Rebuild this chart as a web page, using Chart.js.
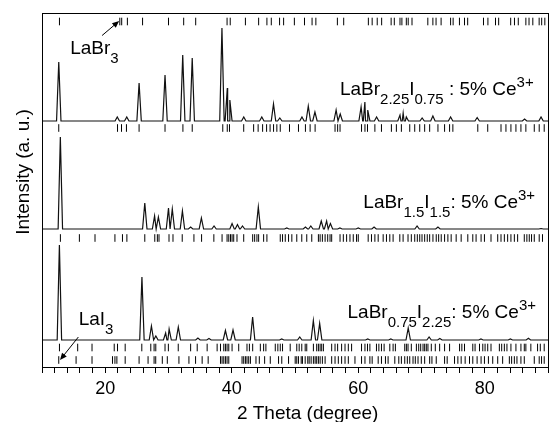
<!DOCTYPE html>
<html>
<head>
<meta charset="utf-8">
<script src="https://cdn.jsdelivr.net/npm/chart.js@4.4.1/dist/chart.umd.min.js"></script>
<style>
  body { margin: 0; background: #fff; }
</style>
</head>
<body>
<canvas id="xrd" width="553" height="422"></canvas>
<script>
// peak lists: [2theta, top of peak]  (y in plot units, 0 = bottom)
var baseTop = 246;
var peaksTop = [[12.65,305],[21.9,250],[23.4,250],[25.35,284],[29.45,292],[32.25,312],[33.75,309],
  [38.45,339],[39.3,279],[39.7,267],[41.9,250],[44.75,250],[46.6,263],[47.6,249],[51.1,250],
  [52.1,261],[53.15,255],[56.5,257],[57.15,253],[60.45,260],[61.05,265],[61.5,257],[62.9,250],
  [66.6,252],[67.1,254],[67.6,250],[70.1,249],[71.8,251],[74.6,250],[78.8,249.5],[86.3,248],[88.9,250]];

var baseMid = 138;
var peaksMid = [[12.9,230],[26.25,164],[27.8,151],[28.4,150],[30.0,159],[30.6,158],[32.2,156],
  [33.5,140],[35.2,149],[37.2,141],[40.05,143.5],[40.9,142.5],[41.7,141],[44.2,160],[48.7,139],
  [51.65,140],[52.5,141],[54.15,146],[55.0,146],[55.6,143.5],[57.1,139],[60.0,139],[62.5,140],
  [69.3,141],[72.6,140],[88.9,138.5]];

var baseBot = 27;
var peaksBot = [[12.75,122],[25.8,90],[27.3,41],[28.0,31],[29.55,34],[30.1,38],[31.55,40],
  [34.65,29],[36.4,28.5],[39.0,36.5],[40.2,37],[43.3,50],[47.9,28],[50.75,30],[52.9,46.5],
  [53.9,43.7],[61.5,28],[65.15,28],[67.9,39],[71.2,30],[72.9,28.5],[79.4,28],[84.05,28],[86.9,28.7]];

// reference reflection positions (2theta)
var ticksLaBr3 = [12.76,22.3,22.6,23.5,25.9,30.0,32.4,34.3,39.26,39.76,42.16,44.25,45.56,46.25,
  47.56,48.2,49.9,51.5,52.7,53.3,56.7,57.7,61.6,62.2,63.0,63.7,65.2,65.7,66.6,66.9,67.6,67.9,
  68.5,71.0,71.8,72.3,73.1,74.6,75.0,76.0,76.8,77.3,79.8,80.5,81.7,82.2,84.1,84.7,85.3,86.5,
  87.0,87.6,88.6,89.0,89.5];
var ticksTop = [12.65,21.94,22.57,23.35,25.35,29.45,32.28,33.75,38.58,39.29,39.64,41.89,43.46,
  44.17,44.88,45.51,46.06,46.61,47.13,47.67,49.13,50.55,51.65,52.39,53.18,56.33,56.74,57.12,
  60.52,61.06,61.46,62.63,63.67,65.24,66.03,66.82,68.14,68.93,69.72,70.5,71.29,72.6,73.65,
  74.44,74.96,78.9,80.47,82.57,83.35,84.14,84.93,85.72,86.5,87.83,88.61,89.4];
var ticksMid = [12.91,15.91,18.38,21.53,22.72,23.42,26.25,27.83,28.24,28.5,30.08,30.71,32.17,
  34.02,35.23,37.17,38.47,39.26,39.53,39.8,40.05,40.31,40.83,41.89,43.31,43.62,43.98,44.25,
  45.04,45.56,47.67,48.03,48.46,48.98,49.5,50.28,51.07,51.86,52.65,53.7,53.97,54.33,54.76,
  55.17,55.54,55.8,57.12,57.64,58.16,58.69,59.21,59.73,60.0,61.57,62.09,62.63,63.15,63.94,
  64.46,64.99,65.51,66.57,67.09,67.87,68.39,68.93,69.34,69.72,70.08,70.5,70.91,71.29,71.81,
  72.33,72.71,73.12,73.65,74.17,74.69,75.48,76.27,77.32,78.11,78.63,79.42,79.95,80.99,82.05,
  82.57,83.1,83.62,84.14,84.68,85.2,86.25,86.66,87.04,87.4,87.83,88.61,89.13];
var ticksBot = [12.76,15.64,17.91,21.42,21.94,23.15,25.78,27.2,27.72,27.99,29.45,29.98,31.54,
  33.5,34.54,36.11,37.69,38.22,38.74,39.0,39.26,39.53,40.05,41.1,42.41,42.79,43.31,44.52,45.04,
  45.4,46.88,47.29,47.67,48.03,49.24,50.28,50.66,51.07,51.61,51.86,52.91,53.43,53.7,53.97,
  54.22,54.49,55.8,56.33,56.74,57.37,57.91,58.43,58.95,60.52,61.06,61.46,61.84,62.88,63.26,
  63.67,64.09,64.99,65.51,65.87,67.35,67.61,67.87,68.39,69.19,69.56,69.87,70.24,70.5,70.76,
  71.02,71.55,72.18,72.87,73.65,74.44,76.02,76.38,76.8,78.11,78.47,79.17,79.69,80.05,80.47,
  80.99,82.31,82.68,83.1,83.51,84.14,84.93,85.72,86.25,86.5,87.29,88.35,88.78,89.4];
var ticksLaI3 = [12.65,15.39,17.91,21.15,21.53,21.84,23.15,25.35,26.77,27.72,27.98,29.02,29.81,
  31.65,33.23,34.28,35.32,36.27,38.22,38.47,38.74,39.0,39.26,39.53,41.63,41.89,42.16,42.41,
  42.68,42.95,43.83,44.36,45.2,46.09,47.4,47.91,48.98,50.03,50.28,50.55,50.98,51.18,51.61,
  52.02,52.24,52.55,52.91,53.18,53.43,53.7,53.97,54.33,54.76,55.8,56.33,56.85,57.37,57.91,
  58.43,59.48,60.52,61.06,61.84,62.2,63.15,63.67,64.3,64.72,65.78,66.41,66.82,67.35,67.76,
  68.14,68.66,69.02,69.45,69.97,70.5,71.29,71.65,72.33,73.65,74.06,75.22,75.75,76.27,76.9,
  77.59,78.11,78.79,79.42,79.95,80.58,81.26,82.05,82.83,83.89,84.25,84.68,85.09,85.72,86.25,
  87.83,88.61,88.98,89.4];

var FONT = '"Liberation Sans", Arial, sans-serif';
var W = 0.35;

function profile(peaks, base) {
  var pts = [{x: 10, y: base}];
  peaks.forEach(function (p) {
    pts.push({x: p[0] - W, y: base}, {x: p[0], y: p[1]}, {x: p[0] + W, y: base});
  });
  pts.push({x: 90, y: base});
  pts.sort(function (a, b) { return a.x - b.x; });
  return pts;
}

function tickRow(list, yv) {
  return {
    data: list.map(function (v) { return {x: v, y: yv}; }),
    pointStyle: 'line', rotation: 90, pointRadius: 3.8,
    borderColor: '#000', borderWidth: 1, showLine: false
  };
}

function curve(peaks, base) {
  return {
    data: profile(peaks, base), showLine: true, pointRadius: 0,
    borderColor: '#111', borderWidth: 1.2, tension: 0
  };
}

function rich(ctx, px, py, parts) {
  var cx = px;
  parts.forEach(function (p) {
    var small = p[1] === 'sub' || p[1] === 'sup';
    ctx.font = (small ? 15 : 19) + 'px ' + FONT;
    var dy = p[1] === 'sub' ? 9 : (p[1] === 'sup' ? -8 : 0);
    ctx.fillText(p[0], cx, py + dy);
    cx += ctx.measureText(p[0]).width;
  });
}

function arrow(ctx, x1, y1, x2, y2) {
  var a = Math.atan2(y2 - y1, x2 - x1);
  ctx.beginPath();
  ctx.moveTo(x1, y1);
  ctx.lineTo(x2 - 5 * Math.cos(a), y2 - 5 * Math.sin(a));
  ctx.stroke();
  ctx.beginPath();
  ctx.moveTo(x2, y2);
  ctx.lineTo(x2 - 7 * Math.cos(a) + 3 * Math.sin(a), y2 - 7 * Math.sin(a) - 3 * Math.cos(a));
  ctx.lineTo(x2 - 7 * Math.cos(a) - 3 * Math.sin(a), y2 - 7 * Math.sin(a) + 3 * Math.cos(a));
  ctx.closePath();
  ctx.fill();
}

var annot = {
  id: 'annot',
  afterDraw: function (chart) {
    var ctx = chart.ctx, a = chart.chartArea, x = chart.scales.x, y = chart.scales.y;
    ctx.save();
    ctx.strokeStyle = '#000';
    ctx.fillStyle = '#000';
    ctx.lineWidth = 1;
    ctx.strokeRect(Math.round(a.left) + 0.5, Math.round(a.top) + 0.5,
      Math.round(a.right - a.left), Math.round(a.bottom - a.top));
    ctx.textAlign = 'left';
    ctx.textBaseline = 'alphabetic';

    rich(ctx, x.getPixelForValue(57.1), y.getPixelForValue(272),
      [['LaBr'], ['2.25', 'sub'], ['I'], ['0.75', 'sub'], [' : 5% Ce'], ['3+', 'sup']]);
    rich(ctx, x.getPixelForValue(60.8), y.getPixelForValue(159),
      [['LaBr'], ['1.5', 'sub'], ['I'], ['1.5', 'sub'], [': 5% Ce'], ['3+', 'sup']]);
    rich(ctx, x.getPixelForValue(58.3), y.getPixelForValue(48.7),
      [['LaBr'], ['0.75', 'sub'], ['I'], ['2.25', 'sub'], [': 5% Ce'], ['3+', 'sup']]);
    rich(ctx, x.getPixelForValue(14.45), y.getPixelForValue(312.7), [['LaBr'], ['3', 'sub']]);
    rich(ctx, x.getPixelForValue(15.8), y.getPixelForValue(42), [['LaI'], ['3', 'sub']]);

    arrow(ctx, x.getPixelForValue(19.5), y.getPixelForValue(331.5),
      x.getPixelForValue(22.2), y.getPixelForValue(346));
    arrow(ctx, x.getPixelForValue(15.75), y.getPixelForValue(30),
      x.getPixelForValue(12.85), y.getPixelForValue(7));

    // axis titles
    ctx.font = '19px ' + FONT;
    ctx.textAlign = 'center';
    ctx.fillText('2 Theta (degree)', x.getPixelForValue(52), 419);
    ctx.translate(29, y.getPixelForValue(195));
    ctx.rotate(-Math.PI / 2);
    ctx.fillText('Intensity (a. u.)', 0, 0);
    ctx.restore();
  }
};

var myChart = new Chart(document.getElementById('xrd'), {
  type: 'scatter',
  data: {
    datasets: [
      curve(peaksTop, baseTop),
      curve(peaksMid, baseMid),
      curve(peaksBot, baseBot),
      tickRow(ticksLaBr3, 345.5),
      tickRow(ticksTop, 239),
      tickRow(ticksMid, 129),
      tickRow(ticksBot, 19.5),
      tickRow(ticksLaI3, 7)
    ]
  },
  options: {
    responsive: false,
    animation: false,
    events: [],
    layout: { padding: { left: 42, right: 3, top: 13, bottom: 0 } },
    plugins: { legend: { display: false }, tooltip: { enabled: false } },
    scales: {
      x: {
        type: 'linear', min: 10, max: 90,
        afterFit: function (s) { s.height = 55; },
        grid: { display: true, drawOnChartArea: false, drawTicks: true, tickLength: 6, color: '#000' },
        border: { display: true, color: '#000' },
        ticks: {
          stepSize: 2, autoSkip: false, maxRotation: 0, padding: 5, color: '#000',
          font: { family: FONT, size: 18 },
          callback: function (v) { return v % 20 === 0 ? v : ''; }
        }
      },
      y: { display: false, min: 0, max: 354 }
    }
  },
  plugins: [annot]
});
</script>
</body>
</html>
